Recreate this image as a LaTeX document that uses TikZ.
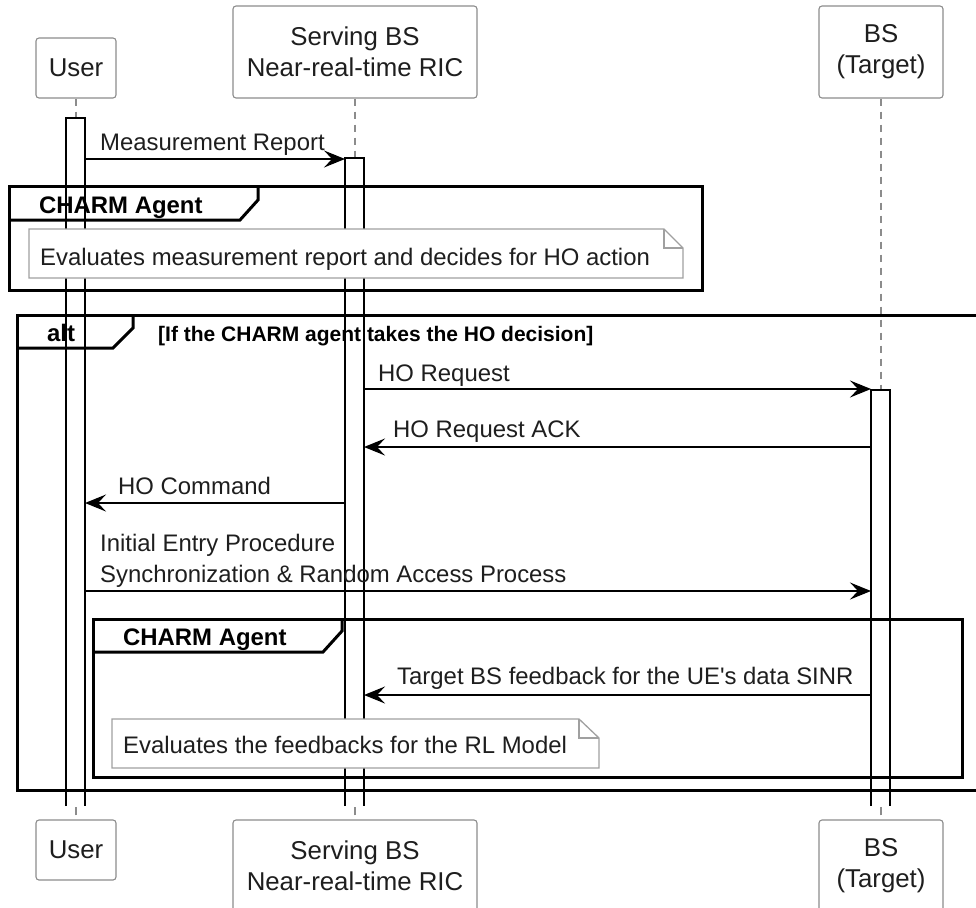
\documentclass[tikz,border=0pt]{standalone}
\usepackage{fontspec}
\setmainfont{Liberation Sans}
\usetikzlibrary{arrows.meta}

\definecolor{boxgray}{HTML}{8C8C8C}
\definecolor{linegray}{HTML}{8C8C8C}
\definecolor{notegray}{HTML}{A0A0A0}
\definecolor{inkgray}{HTML}{1E1E1E}

\begin{document}
\begin{tikzpicture}[x=1pt,y=-1pt,
		participant/.style={draw=boxgray,line width=1.1pt,rounded corners=3pt,fill=white,align=center,inner sep=0pt,text=inkgray,font=\fontsize{25.8}{31}\selectfont,minimum width=#1},
		lifeline/.style={draw=linegray,line width=1.1pt,dash pattern=on 7pt off 6pt},
		bar/.style={draw=black,line width=1.3pt},
		msg/.style={draw=black,line width=1.4pt,-{Stealth[length=21pt,width=17pt,inset=8pt]}},
		msgtext/.style={anchor=base west,inner sep=0pt,text=inkgray,font=\fontsize{23.9}{31}\selectfont},
		frame/.style={draw=black,line width=3pt},
		frametitle/.style={anchor=base west,inner sep=0pt,font=\bfseries\fontsize{23.9}{29}\selectfont},
		notebox/.style={draw=notegray,line width=1.3pt,fill=white}]
		
		\useasboundingbox (0,0) rectangle (976,907);
		
		%teilnehmer oben
		\node[participant=80,minimum height=60] (userTop) at (76,68) {User};
		\node[participant=244,minimum height=92] (servTop) at (355,52) {Serving BS\\Near-real-time RIC};
		\node[participant=124,minimum height=92] (targTop) at (881,52) {BS\\(Target)};
		
		%teilnehmer unten
		\node[participant=80,minimum height=60] (userBot) at (76,850) {User};
		\node[participant=244,minimum height=92] (servBot) at (355,866) {Serving BS\\Near-real-time RIC};
		\node[participant=124,minimum height=92] (targBot) at (881,866) {BS\\(Target)};
		
		%lebenslinien
		\foreach \top/\start in {userTop/118, servTop/158, targTop/390}
		\draw[lifeline] (\top.south) -- (\top.south |- 0,\start);
		\foreach \bot in {userBot, servBot, targBot}
		\draw[draw=linegray,line width=1.1pt] ([yshift=4pt]\bot.north) -- ([yshift=12pt]\bot.north);
		
		%aktivierungen
		\foreach \l/\r/\top in {66/85/118, 345/364/158, 871/890/390}
		\draw[bar] (\l,806) -- (\l,\top) -- (\r,\top) -- (\r,806);
		
		\coordinate (uE) at (85,0);
		\coordinate (sW) at (345,0);
		\coordinate (sE) at (364,0);
		\coordinate (tW) at (871,0);
		
		%gruppe CHARM Agent
		\draw[frame] (9,186) rectangle (702,290);
		\draw[frame] (9,220) -- (240,220) -- (258,200) -- (258,186);
		\node[frametitle] (agentTitle) at (39,213) {CHARM Agent};
		\draw[notebox] (29,229) -- (664,229) -- (683,248) -- (683,278) -- (29,278) -- cycle;
		\draw[notebox,fill=none] (664,229) |- (683,248);
		\node[msgtext] (evalNote) at (40,265) {Evaluates measurement report and decides for HO action};
		
		%alt
		\draw[frame] (17,315) rectangle (1000,790);
		\draw[frame] (17,348) -- (113,348) -- (133,328) -- (133,315);
		\node[frametitle] (altTitle) at (47,341) {alt};
		\node[frametitle,font=\bfseries\fontsize{21}{25}\selectfont] (guard) at (158,341) {[If the CHARM agent takes the HO decision]};
		
		%innere gruppe
		\draw[frame] (93,619) rectangle (962,777);
		\draw[frame] (93,652) -- (323,652) -- (342,631) -- (342,619);
		\node[frametitle] (agentTitleIn) at (123,645) {CHARM Agent};
		\draw[notebox] (112,719) -- (579,719) -- (599,738) -- (599,768) -- (112,768) -- cycle;
		\draw[notebox,fill=none] (579,719) |- (599,738);
		\node[msgtext] (rlNote) at (123,753) {Evaluates the feedbacks for the RL Model};
		
		%nachrichten
		\foreach \von/\nach/\y in {uE/sW/159, sE/tW/389, tW/sE/447, sW/uE/503, uE/tW/591, tW/sE/695}
		\draw[msg] (\von |- 0,\y) -- (\nach |- 0,\y);
		
		\node[msgtext] (mrText) at (100,150) {Measurement Report};
		\node[msgtext] (reqText) at (378,381) {HO Request};
		\node[msgtext] (ackText) at (393,437) {HO Request ACK};
		\node[msgtext] (cmdText) at (118,494) {HO Command};
		\node[msgtext] (entryText) at (100,551) {Initial Entry Procedure};
		\node[msgtext] (syncText) at (100,582) {Synchronization \& Random Access Process};
		\node[msgtext] (fbText) at (397,684) {Target BS feedback for the UE\textquotesingle s data SINR};
		
	\end{tikzpicture}
\end{document}
